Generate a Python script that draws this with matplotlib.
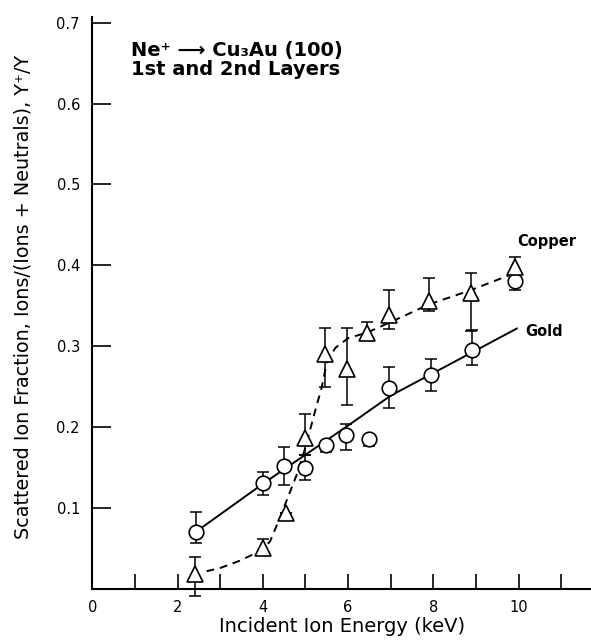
import matplotlib
matplotlib.use("Agg")
import matplotlib.pyplot as plt
import numpy as np

plt.rcParams["font.family"] = ["DejaVu Sans"]

# gold (circles): energy, yield fraction, error bar low / high ends
gold_e = [2.43, 4.0, 4.5, 4.99, 5.48, 5.95, 6.49, 6.95, 7.94, 8.9, 9.92]
gold_y = [0.070, 0.131, 0.152, 0.150, 0.178, 0.190, 0.186, 0.249, 0.265, 0.296, 0.381]
gold_lo = [0.057, 0.116, 0.129, 0.135, 0.169, 0.172, 0.177, 0.224, 0.245, 0.277, 0.370]
gold_hi = [0.095, 0.145, 0.176, 0.166, 0.183, 0.204, 0.188, 0.274, 0.284, 0.320, 0.385]

# copper (triangles)
cu_e = [2.41, 4.0, 4.55, 4.99, 5.45, 5.97, 6.45, 6.95, 7.91, 8.88, 9.92]
cu_y = [0.018, 0.051, 0.094, 0.187, 0.290, 0.272, 0.317, 0.339, 0.356, 0.366, 0.398]
cu_lo = [-0.009, 0.042, 0.094, 0.166, 0.250, 0.228, 0.308, 0.321, 0.343, 0.319, 0.390]
cu_hi = [0.040, 0.062, 0.094, 0.216, 0.323, 0.322, 0.330, 0.370, 0.385, 0.391, 0.410]

# hand-drawn guide curves
gold_fit_e = [2.57, 4.0, 5.0, 6.0, 7.0, 8.0, 9.0, 9.96]
gold_fit_y = [0.076, 0.130, 0.166, 0.202, 0.239, 0.267, 0.295, 0.322]
cu_fit_e = [2.68, 3.0, 3.46, 3.78, 4.0, 4.17, 4.4, 4.6, 4.8, 5.0, 5.2, 5.38, 5.5,
            5.7, 6.0, 6.45, 7.0, 7.91, 8.86, 9.84]
cu_fit_y = [0.022, 0.026, 0.035, 0.043, 0.049, 0.059, 0.088, 0.115, 0.142, 0.175,
            0.215, 0.249, 0.280, 0.298, 0.310, 0.317, 0.330, 0.352, 0.369, 0.389]


def yerr(y, lo, hi):
    y = np.asarray(y)
    return np.vstack([y - np.asarray(lo), np.asarray(hi) - y])


fig = plt.figure(figsize=(5.91, 6.42), dpi=100)
ax = fig.add_axes([92.4 / 591, 53 / 642, 1 - 92.4 / 591, 572 / 642])

ax.plot(gold_fit_e, gold_fit_y, color="black", lw=1.4, zorder=2)
ax.plot(cu_fit_e, cu_fit_y, color="black", lw=1.4, ls=(0, (4, 3)), zorder=2)

for e, y, lo, hi, mk in [(gold_e, gold_y, gold_lo, gold_hi, "o"),
                         (cu_e, cu_y, cu_lo, cu_hi, "^")]:
    ax.errorbar(e, y, yerr=yerr(y, lo, hi), fmt="none", ecolor="black",
                elinewidth=1.1, capsize=4.5, capthick=1.1, clip_on=False, zorder=3)
    ax.plot(e, y, ls="none", marker=mk, ms=10.5 if mk == "o" else 11.5,
            mfc="white", mec="black", mew=1.2, zorder=4, clip_on=False)

ax.set_xlim(0, 11.7)
ax.set_ylim(0, 0.707)
ax.set_xticks([0, 2, 4, 6, 8, 10])
ax.set_xticks([1, 3, 5, 7, 9, 11], minor=True)
ax.set_yticks([0.1, 0.2, 0.3, 0.4, 0.5, 0.6, 0.7])
ax.set_yticklabels(["0.1", "0.2", "0.3", "0.4", "0.5", "0.6", "0.7"])

for s in ["top", "right"]:
    ax.spines[s].set_visible(False)
for s in ["left", "bottom"]:
    ax.spines[s].set_linewidth(1.5)

ax.tick_params(axis="x", which="both", direction="in", length=11, width=1.2,
               labelsize=10.5, pad=8)
ax.tick_params(axis="y", direction="in", length=14, width=1.2, labelsize=10.5, pad=9)

ax.set_xlabel("Incident Ion Energy (keV)", fontsize=14)
ax.xaxis.set_label_coords(0.5, -0.049)
ax.set_ylabel("Scattered Ion Fraction, Ions/(Ions + Neutrals), Y\u207a/Y", fontsize=13.8)
ax.yaxis.set_label_coords(-0.121, 0.51)

ax.text(0.0768, 0.9318, "Ne\u207a \u27f6 Cu\u2083Au (100)", transform=ax.transAxes,
        fontsize=14, fontweight="bold", ha="left", va="baseline")
ax.text(0.0768, 0.8986, "1st and 2nd Layers", transform=ax.transAxes,
        fontsize=14, fontweight="bold", ha="left", va="baseline")
ax.text(9.96, 0.4236, "Copper", fontsize=10.5, fontweight="bold", ha="left", va="baseline")
ax.text(10.155, 0.313, "Gold", fontsize=10.5, fontweight="bold", ha="left", va="baseline")

fig.savefig("out.png", dpi=100)
